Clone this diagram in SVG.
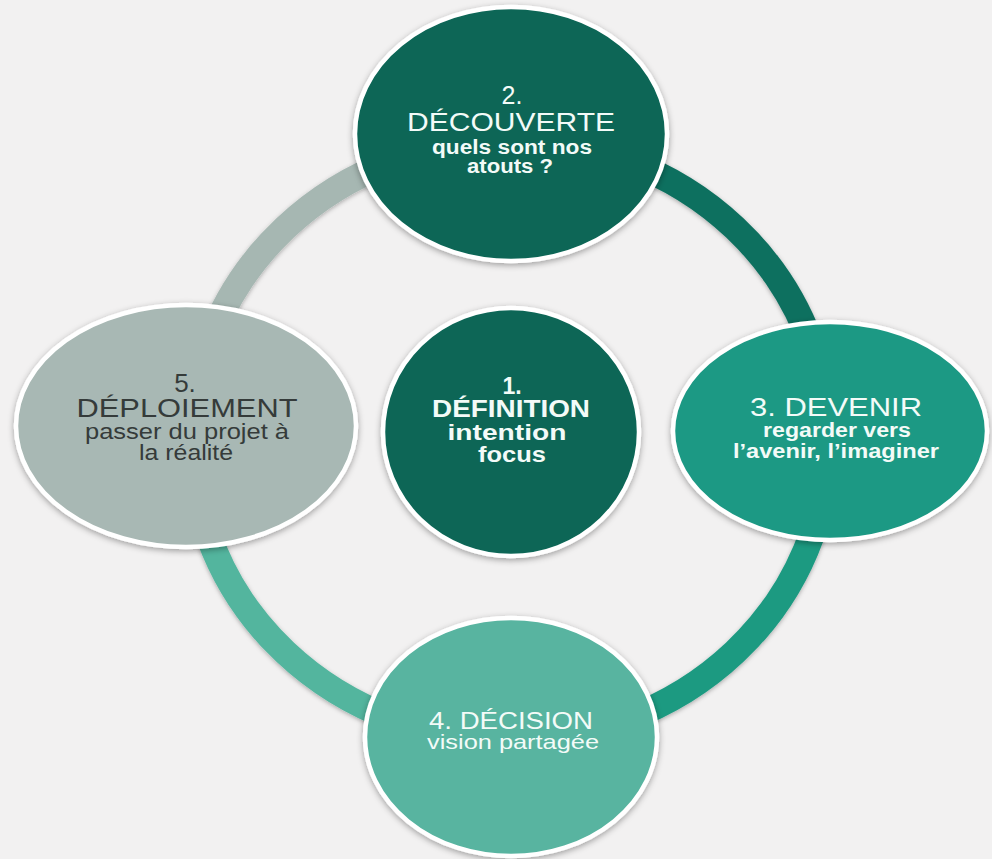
<svg xmlns="http://www.w3.org/2000/svg" width="992" height="859" viewBox="0 0 992 859">
<defs>
<filter id="sh" x="-20%" y="-20%" width="140%" height="140%">
<feDropShadow dx="0" dy="2" stdDeviation="3" flood-color="#000" flood-opacity="0.35"/>
</filter>
<filter id="shr" x="-10%" y="-10%" width="120%" height="120%">
<feDropShadow dx="0" dy="1.5" stdDeviation="2" flood-color="#000" flood-opacity="0.3"/>
</filter>
</defs>
<style>
.node{stroke:#ffffff;stroke-width:4.5;filter:url(#sh)}
.arc{fill:none;stroke-width:26;filter:url(#shr)}
text{font-family:"Liberation Sans",Arial,sans-serif;text-anchor:middle}
.lt{fill:#f3fbf8}
.dk{fill:#353b3a}
.b{font-weight:bold}
</style>
<rect width="992" height="859" fill="#f2f1f1"/>
<g id="connectors">
<path class="arc" stroke="#a6b7b2" d="M192,440 A318,300 0 0 1 510,140"/>
<path class="arc" stroke="#0b6f5e" d="M510,140 A318,300 0 0 1 828,440"/>
<path class="arc" stroke="#1c9a81" d="M828,440 A318,300 0 0 1 510,740"/>
<path class="arc" stroke="#52b59e" d="M510,740 A318,300 0 0 1 192,440"/>
</g>
<g id="node5">
<ellipse class="node" cx="186" cy="426" rx="170" ry="121" fill="#a8b8b4"/>
<text class="dk" x="185" y="392" font-size="26">5.</text>
<text class="dk" x="187" y="417" font-size="26" textLength="221" lengthAdjust="spacingAndGlyphs">DÉPLOIEMENT</text>
<text class="dk" x="187" y="439" font-size="22" textLength="204" lengthAdjust="spacingAndGlyphs">passer du projet à</text>
<text class="dk" x="186" y="460" font-size="22" textLength="94" lengthAdjust="spacingAndGlyphs">la réalité</text>
</g>
<g id="node3">
<ellipse class="node" cx="830" cy="431" rx="157" ry="109" fill="#1e9984"/>
<text class="lt" x="836" y="416" font-size="26" textLength="172" lengthAdjust="spacingAndGlyphs">3. DEVENIR</text>
<text class="lt b" x="837" y="437" font-size="20" textLength="148" lengthAdjust="spacingAndGlyphs">regarder vers</text>
<text class="lt b" x="836" y="458" font-size="20" textLength="206" lengthAdjust="spacingAndGlyphs">l’avenir, l’imaginer</text>
</g>
<g id="node4">
<ellipse class="node" cx="511" cy="737" rx="146" ry="119" fill="#58b4a0"/>
<text class="lt" x="511" y="729" font-size="24" textLength="164" lengthAdjust="spacingAndGlyphs">4. DÉCISION</text>
<text class="lt" x="513" y="749" font-size="21" textLength="172" lengthAdjust="spacingAndGlyphs">vision partagée</text>
</g>
<g id="node2">
<ellipse class="node" cx="511" cy="134" rx="156" ry="127" fill="#0b6656"/>
<text class="lt" x="512" y="104" font-size="25">2.</text>
<text class="lt" x="511" y="131" font-size="26" textLength="208" lengthAdjust="spacingAndGlyphs">DÉCOUVERTE</text>
<text class="lt b" x="512" y="154" font-size="20" textLength="160" lengthAdjust="spacingAndGlyphs">quels sont nos</text>
<text class="lt b" x="510" y="173" font-size="20" textLength="86" lengthAdjust="spacingAndGlyphs">atouts ?</text>
</g>
<g id="node1">
<ellipse class="node" cx="511" cy="432" rx="128" ry="124" fill="#0b6656"/>
<text class="lt b" x="512" y="394" font-size="23">1.</text>
<text class="lt b" x="511" y="417" font-size="23" textLength="158" lengthAdjust="spacingAndGlyphs">DÉFINITION</text>
<text class="lt b" x="507" y="440" font-size="22" textLength="119" lengthAdjust="spacingAndGlyphs">intention</text>
<text class="lt b" x="512" y="462" font-size="22" textLength="68" lengthAdjust="spacingAndGlyphs">focus</text>
</g>
</svg>
